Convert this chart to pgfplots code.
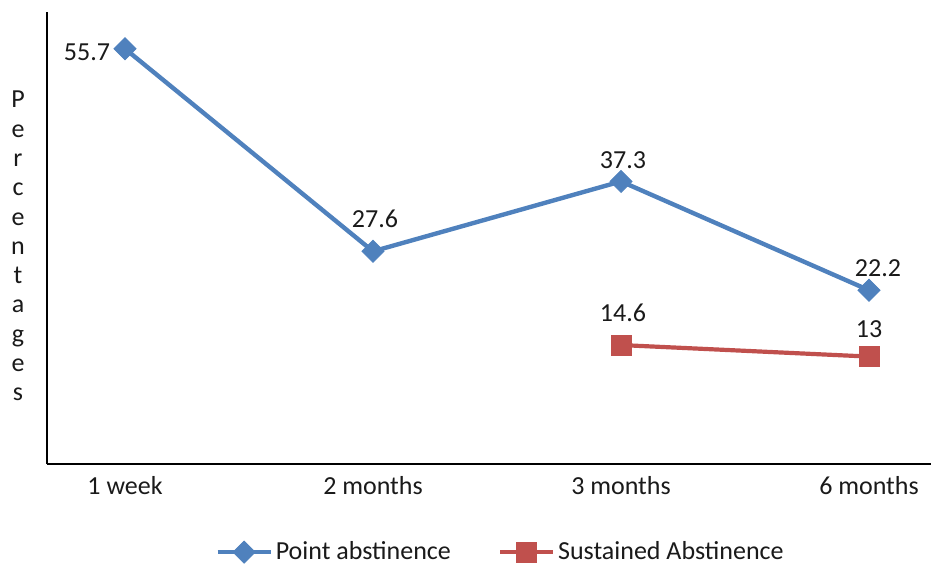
\documentclass[border=0pt]{standalone}
\usepackage{pgfplots}
\pgfplotsset{compat=1.18}
\usepackage{pgfplotstable}
\usepackage{fontspec}
\setmainfont{Carlito}
\definecolor{pblue}{HTML}{4F81BD}
\definecolor{sred}{HTML}{C0504D}
\definecolor{txt}{HTML}{1A1A1A}

\pgfplotstableread{
x y dx dy
0 55.7 -19 -1.5
1 27.6 1 16.5
2 37.3 1 10.75
3 22.2 4.5 11.25
}\pointdata
\pgfplotstableread{
x y dx dy
2 14.6 1 16
3 13 0 13.5
}\sustdata

\begin{document}
\begin{tikzpicture}
\begin{axis}[
  scale only axis,
  width=442pt, height=226pt,
  xmin=-0.3145, xmax=3.25,
  ymin=-1.9, ymax=60.8,
  axis x line*=bottom, axis y line*=left,
  axis line style={-, line width=1pt, black},
  xtick={0,1,2,3},
  xticklabels={1 week, 2 months, 3 months, 6 months},
  ytick=\empty,
  major tick length=0pt,
  xticklabel style={font=\fontsize{13}{15.6}\selectfont, text=txt, inner sep=0pt, anchor=north, yshift=-6pt},
  ylabel={P\\e\\r\\c\\e\\n\\t\\a\\g\\e\\s},
  ylabel style={rotate=-90, align=center, font=\fontsize{13}{14.65}\selectfont, text=txt,
    at={(axis description cs:-0.0328,0.482)}, anchor=center},
  clip=false,
  legend columns=2,
  legend style={at={(axis description cs:0.5136,-0.195)}, anchor=center, draw=none,
    font=\fontsize{13}{15.6}\selectfont, text=txt,
    /tikz/every even column/.append style={column sep=22pt},
    nodes={inner sep=1.5pt}},
  legend image code/.code={\draw[mark repeat=2,mark phase=2,#1] plot coordinates {(0pt,0pt) (13.25pt,0pt) (26.5pt,0pt)};},
  point meta=explicit symbolic,
  nodes near coords,
  visualization depends on={\thisrow{dx} \as \labdx},
  visualization depends on={\thisrow{dy} \as \labdy},
  nodes near coords style={font=\fontsize{13}{15.6}\selectfont, text=txt, anchor=center, inner sep=0pt,
    xshift=\labdx pt, yshift=\labdy pt},
]
\addplot[color=pblue, line width=2.2pt, mark=square*, mark size=3.9pt,
  mark options={rotate=45, line width=0.4pt, fill=pblue, draw=pblue}]
  table[x=x, y=y, meta=y] {\pointdata};
\addlegendentry{Point abstinence}
\addplot[color=sred, line width=2.1pt, mark=square*, mark size=5pt,
  mark options={line width=0.4pt, fill=sred, draw=sred}]
  table[x=x, y=y, meta=y] {\sustdata};
\addlegendentry{Sustained Abstinence}
\end{axis}
\pgfresetboundingbox
\path[use as bounding box] (-23.5pt,-51.5pt) rectangle (442pt,232pt);
\end{tikzpicture}
\end{document}
